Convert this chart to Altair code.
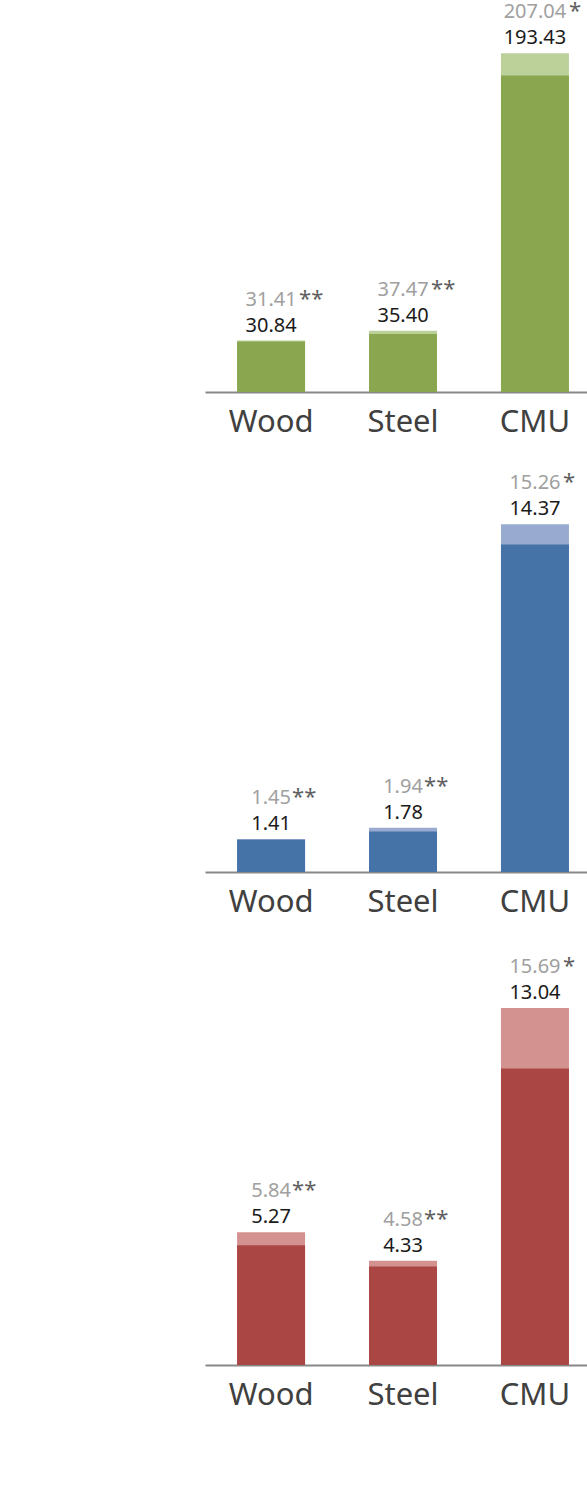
import altair as alt
import pandas as pd

categories = ["Wood", "Steel", "CMU"]
stars = ["**", "**", "*"]

green_base = [30.84, 35.40, 193.43]
green_total = [31.41, 37.47, 207.04]
blue_base = [1.41, 1.78, 14.37]
blue_total = [1.45, 1.94, 15.26]
red_base = [5.27, 4.33, 13.04]
red_total = [5.84, 4.58, 15.69]

FONT = "Noto Sans"
PLOT_W = 382


def panel(base, total, dark, light, height, ymax):
    df = pd.DataFrame({
        "category": categories,
        "base": base,
        "total": total,
        "stars": stars,
        "base_label": [f"{v:.2f}" for v in base],
        "total_label": [f"{v:.2f}" for v in total],
    })
    x = alt.X(
        "category:N",
        sort=categories,
        scale=alt.Scale(paddingInner=0.4848, paddingOuter=0.19, align=0.64),
        axis=alt.Axis(
            title=None, labelAngle=0, labelFontSize=31, labelColor="#404040",
            labelFont=FONT, domainColor="#888888", domainWidth=2,
            ticks=False, tickSize=0, labelPadding=15, grid=False,
        ),
    )
    yscale = alt.Scale(domain=[0, ymax], nice=False, zero=True)
    b = alt.Chart(df)
    light_bar = b.mark_bar(color=light).encode(
        x=x, y=alt.Y("total:Q", scale=yscale, axis=None))
    dark_bar = b.mark_bar(color=dark).encode(
        x=x, y=alt.Y("base:Q", scale=yscale, axis=None))
    black_txt = b.mark_text(
        font=FONT, fontSize=20, color="#1a1a1a", baseline="alphabetic", dy=-9
    ).encode(x=x, y=alt.Y("total:Q", scale=yscale, axis=None), text="base_label:N")
    gray_txt = b.mark_text(
        font=FONT, fontSize=20, color="#a0a0a0", baseline="alphabetic", dy=-35
    ).encode(x=x, y=alt.Y("total:Q", scale=yscale, axis=None), text="total_label:N")
    layers = [light_bar, dark_bar, black_txt, gray_txt]
    for n, dx in [(4, 21), (5, 28), (6, 34)]:
        layers.append(
            b.transform_calculate(n="length(datum.total_label)")
            .transform_filter(f"datum.n == {n}")
            .mark_text(font=FONT, fontSize=22, color="#5f5f5f",
                       baseline="alphabetic", align="left", dx=dx, dy=-35)
            .encode(x=x, y=alt.Y("total:Q", scale=yscale, axis=None), text="stars:N")
        )
    return alt.layer(*layers).properties(width=PLOT_W, height=height)


p1 = panel(green_base, green_total, "#8aa64e", "#bcd09a", 390, 238.4)
p2 = panel(blue_base, blue_total, "#4573a8", "#98aad0", 416, 18.25)
p3 = panel(red_base, red_total, "#aa4644", "#d39290", 429, 18.86)

chart = alt.vconcat(p1, p2, p3, spacing=19).properties(
    padding={"left": 205, "top": 0, "right": 0, "bottom": 12},
    background="white",
).configure_view(stroke="transparent", strokeWidth=0)

chart.save("out.html", embed_options={"renderer": "svg", "actions": False})
